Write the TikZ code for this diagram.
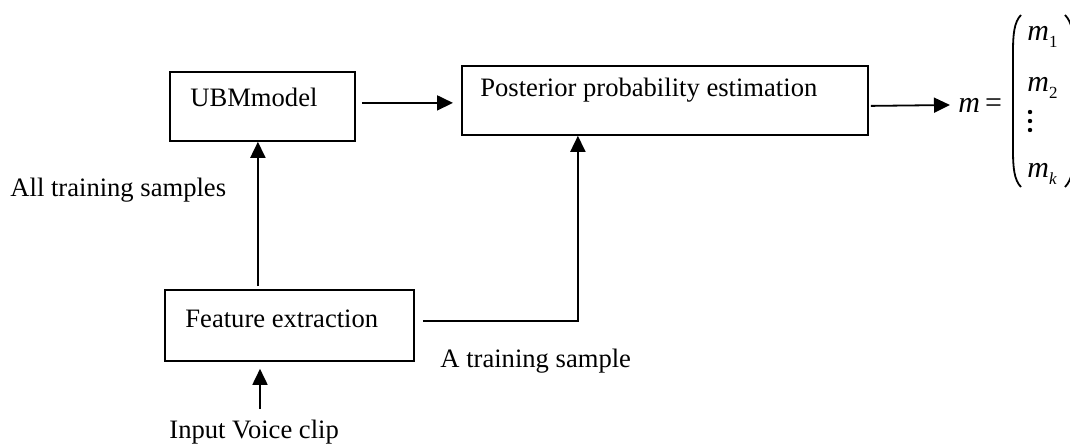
\documentclass[tikz,border=0pt]{standalone}
\usepackage{fontspec}
\setmainfont{Liberation Serif}
\usetikzlibrary{arrows.meta,calc}
\newcommand\mitem[1]{\textit{m}\raisebox{-0.55ex}{\fontsize{8.5}{9}\selectfont #1}}
\begin{document}
\begin{tikzpicture}[x=0.5pt,y=-0.5pt,
  box/.style={draw,line width=0.9pt,inner sep=0pt,anchor=north west},
  lbl/.style={inner sep=0pt,anchor=west,font=\fontsize{13.3}{16}\selectfont},
  mth/.style={inner sep=0pt,anchor=west,font=\fontsize{15}{18}\selectfont},
  arr/.style={line width=0.9pt,-{Triangle[length=8pt,width=7.5pt]}},
  dotm/.style={fill,circle,inner sep=0pt,minimum size=2.2pt},
  paren/.style={line width=0.9pt}]
\useasboundingbox (0,0) rectangle (1070,444);
% boxes
\node[box,minimum width=92.5pt,minimum height=34.5pt] (ubm) at (169,71) {};
\node[lbl] (ubmt) at (190,97) {UBMmodel};
\node[box,minimum width=203pt,minimum height=34.5pt] (post) at (461,65) {};
\node[lbl] (postt) at (480,90) {Posterior probability estimation};
\node[box,minimum width=124.5pt,minimum height=35.5pt] (feat) at (164,289) {};
\node[lbl] (featt) at (185,319) {Feature extraction};
% labels
\node[lbl] (all) at (10,190) {All training samples};
\node[lbl] (one) at (440,361) {A training sample};
\node[lbl] (inp) at (169,432) {Input Voice clip};
% output vector
\node[mth] (meq) at (958,105) {\textit{m}\,=};
\node[mth] (m1) at (1027,37) {\mitem{1}};
\node[mth] (m2) at (1027,88) {\mitem{2}};
\node[dotm] (d1) at (1030,112) {};
\node[dotm] (d2) at (1030,121) {};
\node[dotm] (d3) at (1030,130) {};
\node[mth] (mk) at (1027,174) {\mitem{\textit{k}}};
\draw[paren] (1021,15) .. controls (1014,22) and (1013,35) .. (1013,52) -- (1013,150) .. controls (1013,167) and (1014,180) .. (1021,187);
\draw[paren] (1065,15) .. controls (1072,22) and (1074,35) .. (1074,52) -- (1074,150) .. controls (1074,167) and (1072,180) .. (1065,187);
% connectors
\draw[arr] ($(ubm.east)+(6,-3.5)$) -- ($(post.west)+(-8,2.5)$);
\draw[arr] ($(post.east)+(2,5.5)$) -- ($(meq.west)+(-8,0)$);
\coordinate (fu) at ($(feat.north)+(-31.5,-3)$);
\draw[arr] (fu) -- (fu |- ubm.south);
\coordinate (fp) at ($(feat.east)+(8,-4.5)$);
\coordinate (pb) at ($(post.south)+(-87,0)$);
\draw[arr] (fp) -| (pb);
\coordinate (inb) at (260,409);
\draw[arr,shorten >=3.5pt] (inb) -- (inb |- feat.south);
\end{tikzpicture}
\end{document}
